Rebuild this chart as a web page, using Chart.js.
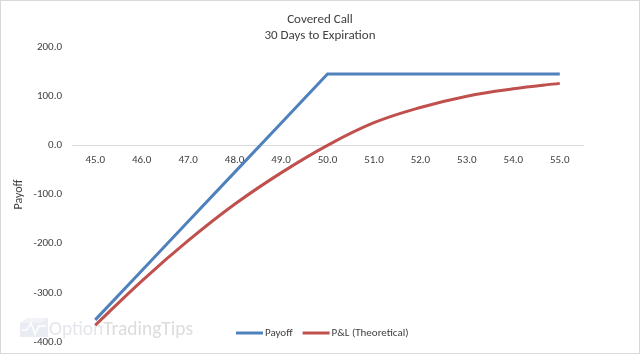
<!DOCTYPE html>
<html>
<head>
<meta charset="utf-8">
<script src="https://cdn.jsdelivr.net/npm/chart.js@4"></script>
<style>
  html, body { margin: 0; padding: 0; background: #ffffff; }
  #wrap { width: 640px; height: 354px; position: relative; }
</style>
</head>
<body>
<div id="wrap"><canvas id="coveredCallChart" width="640" height="354"></canvas></div>
<script>
// Covered call - payoff at expiration vs theoretical P&L, 30 days out
const strikes = ['45.0', '46.0', '47.0', '48.0', '49.0', '50.0', '51.0', '52.0', '53.0', '54.0', '55.0'];
const payoffValues = [-355, -255, -155, -55, 45, 145, 145, 145, 145, 145, 145];
const pnlValues = [-366, -276, -194, -120, -56, 0, 46, 77, 100, 115, 126];
const yTicks = [-400, -300, -200, -100, 0, 100, 200];

const titleLines = ['Covered Call', '30 Days to Expiration'];
const seriesNames = ['Payoff', 'P&L (Theoretical)'];
const seriesColors = ['#4f81bd', '#c0504d'];

const FONT = "Carlito, Calibri, 'Liberation Sans Narrow', 'Liberation Sans', sans-serif";
const TEXT_COLOR = '#404040';

// title, legend, watermark and frame drawn by hand so they sit where the original has them
const decorPlugin = {
    id: 'decor',
    beforeDraw(chart) {
        const c = chart.ctx;
        c.save();
        // watermark logo (faint cube with a wave)
        c.fillStyle = '#e9ecf3';
        c.beginPath();
        c.moveTo(20, 323); c.lineTo(28, 318); c.lineTo(48, 318); c.lineTo(48, 337); c.lineTo(20, 337);
        c.closePath();
        c.fill();
        c.fillStyle = '#f1f3f7';
        c.beginPath();
        c.moveTo(20, 323); c.lineTo(28, 318); c.lineTo(48, 318); c.lineTo(40, 323);
        c.closePath();
        c.fill();
        c.strokeStyle = '#ffffff';
        c.lineWidth = 1.5;
        c.beginPath();
        c.moveTo(22, 330); c.lineTo(27, 330); c.lineTo(31, 323); c.lineTo(35, 334); c.lineTo(39, 326); c.lineTo(46, 326);
        c.stroke();
        c.font = '20px ' + FONT;
        c.textBaseline = 'alphabetic';
        c.textAlign = 'left';
        const w1 = c.measureText('Option').width;
        const wAll = c.measureText('OptionTradingTips').width;
        const k = 144 / wAll;
        c.fillStyle = '#e4e6ec';
        c.fillText('Option', 49, 335, w1 * k);
        c.fillStyle = '#dcdcdc';
        c.fillText('TradingTips', 49 + w1 * k, 335, (wAll - w1) * k);
        c.restore();
    },
    afterDraw(chart) {
        const c = chart.ctx;
        c.save();
        c.fillStyle = TEXT_COLOR;
        c.textAlign = 'center';
        c.textBaseline = 'middle';
        c.font = '13px ' + FONT;
        c.fillText(titleLines[0], 320, 20);
        c.fillText(titleLines[1], 320, 36);

        // legend
        c.font = '11px ' + FONT;
        c.textAlign = 'left';
        let x = 236;
        chart.data.datasets.forEach((ds, i) => {
            c.strokeStyle = ds.borderColor;
            c.lineWidth = 3;
            c.beginPath();
            c.moveTo(x, 333);
            c.lineTo(x + 27, 333);
            c.stroke();
            c.fillStyle = TEXT_COLOR;
            c.fillText(ds.label, x + 29, 333);
            x += 29 + c.measureText(ds.label).width + 10;
        });

        // outer frame
        c.strokeStyle = '#d9d9d9';
        c.lineWidth = 1;
        c.strokeRect(0.5, 0.5, 639, 353);
        c.restore();
    }
};

new Chart(document.getElementById('coveredCallChart'), {
    type: 'line',
    data: {
        labels: strikes,
        datasets: [
            {
                label: seriesNames[0],
                data: payoffValues,
                borderColor: seriesColors[0],
                backgroundColor: seriesColors[0],
                borderWidth: 3,
                pointRadius: 0,
                tension: 0
            },
            {
                label: seriesNames[1],
                data: pnlValues,
                borderColor: seriesColors[1],
                backgroundColor: seriesColors[1],
                borderWidth: 3,
                pointRadius: 0,
                tension: 0.4
            }
        ]
    },
    options: {
        responsive: false,
        animation: false,
        layout: {
            padding: { left: 0, top: 47, right: 57, bottom: 0 }
        },
        plugins: {
            legend: { display: false },
            title: { display: false },
            tooltip: { enabled: false }
        },
        scales: {
            x: {
                type: 'category',
                position: { y: 0 },
                offset: true,
                grid: { display: false, drawTicks: false },
                border: { display: true, color: '#d9d9d9', width: 1 },
                ticks: {
                    color: TEXT_COLOR,
                    font: { family: FONT, size: 11 },
                    padding: 8,
                    maxRotation: 0,
                    autoSkip: false
                },
                afterFit: function(scale) {
                    scale.height = 0;
                }
            },
            y: {
                min: -400,
                max: 200,
                afterBuildTicks: function(scale) {
                    scale.ticks = yTicks.map(v => ({ value: v }));
                },
                grid: { display: false, drawTicks: false },
                border: { display: false },
                ticks: {
                    color: TEXT_COLOR,
                    font: { family: FONT, size: 11 },
                    padding: 10,
                    callback: function(value) {
                        return value.toFixed(1);
                    }
                },
                title: {
                    display: true,
                    text: 'Payoff',
                    color: TEXT_COLOR,
                    font: { family: FONT, size: 12 },
                    padding: { top: 12, bottom: 0 }
                },
                afterFit: function(scale) {
                    scale.width = 72;
                    scale.paddingBottom = 12;
                }
            }
        }
    },
    plugins: [decorPlugin]
});
</script>
</body>
</html>
